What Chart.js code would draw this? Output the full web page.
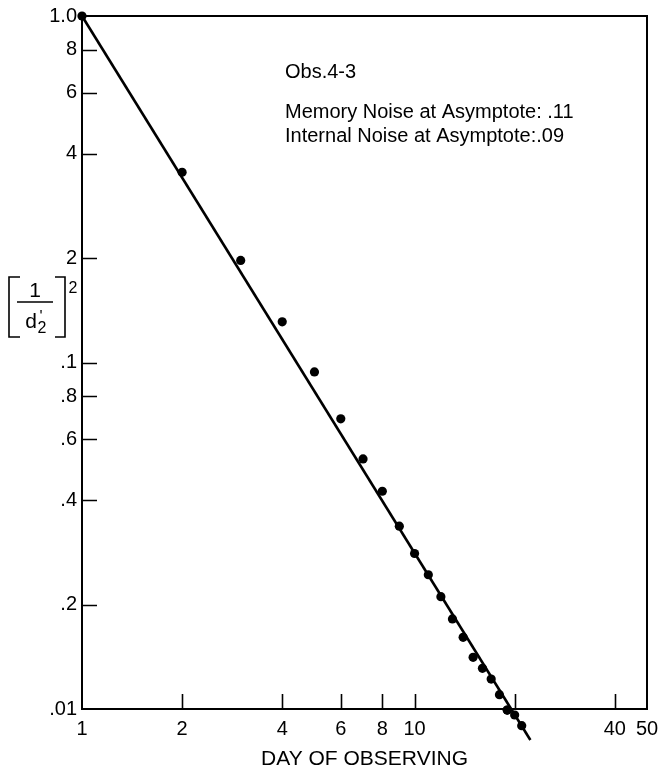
<!DOCTYPE html>
<html><head><meta charset="utf-8">
<script src="https://cdn.jsdelivr.net/npm/chart.js@4.4.1/dist/chart.umd.min.js"></script>
<style>html,body{margin:0;padding:0;background:#fff;overflow:hidden;}</style>
</head><body>
<canvas id="c" width="661" height="772" style="display:block;width:661px;height:772px"></canvas>
<script>
// ---- data ----
const days = [1,2,3,4,5,6,7,8,9,10,11,12,13,14,15,16,17,18,19,20,21];
const invDprimeSq = [1.0,0.354,0.197,0.131,0.0939,0.0688,0.0527,0.0425,0.0337,0.0281,0.0244,0.0211,0.0182,0.0161,0.0141,0.0131,0.0122,0.0110,0.00993,0.00961,0.00895];
const fitDays = [1, 22.3];
const fitValues = [1.0, 0.00814];
const xTickValues = [1,2,4,6,8,10,20,40,50];
const xTickLabels = ['1','2','4','6','8','10','','40','50'];
const yTickValues = [0.01,0.02,0.04,0.06,0.08,0.1,0.2,0.4,0.6,0.8,1.0];
const yTickLabels = ['.01','.2','.4','.6','.8','.1','2','4','6','8','1.0'];
const annotations = ['Obs.4-3','Memory Noise at Asymptote: .11','Internal Noise at Asymptote:.09'];
const xTitle = 'DAY OF OBSERVING';

const FONT = "'Liberation Sans', Arial, sans-serif";

const framePlugin = {
  id: 'frame',
  beforeDraw(chart) {
    const ctx = chart.ctx;
    ctx.save();
    ctx.fillStyle = '#fff';
    ctx.fillRect(0, 0, chart.width, chart.height);
    ctx.restore();
  },
  beforeDatasetsDraw(chart) {
    const ctx = chart.ctx, a = chart.chartArea;
    const xs = chart.scales.x, ys = chart.scales.y;
    ctx.save();
    ctx.strokeStyle = '#000';
    ctx.lineWidth = 2;
    ctx.strokeRect(a.left, a.top, a.right - a.left, a.bottom - a.top);
    ctx.lineWidth = 1.6;
    ctx.beginPath();
    yTickValues.forEach(v => {
      if (v === ys.min || v === ys.max) return;
      const py = Math.round(ys.getPixelForValue(v)) + 0.5;
      ctx.moveTo(a.left, py); ctx.lineTo(a.left + 15, py);
    });
    xTickValues.forEach(v => {
      if (v === xs.min || v === xs.max) return;
      const px = Math.round(xs.getPixelForValue(v)) + 0.5;
      ctx.moveTo(px, a.bottom); ctx.lineTo(px, a.bottom - 15);
    });
    ctx.stroke();
    ctx.restore();
  },
  afterDatasetsDraw(chart) {
    // points that lie just below the axis (Chart.js skips elements outside the area)
    const ctx = chart.ctx, a = chart.chartArea;
    const meta = chart.getDatasetMeta(1);
    ctx.save();
    meta.data.forEach(el => {
      if (el.y > a.bottom || el.y < a.top || el.x > a.right || el.x < a.left) el.draw(ctx);
    });
    ctx.restore();
  },
  afterDraw(chart) {
    const ctx = chart.ctx;
    ctx.save();
    ctx.fillStyle = '#000';
    ctx.textBaseline = 'alphabetic';
    ctx.textAlign = 'left';
    ctx.font = '20px ' + FONT;
    ctx.fillText(annotations[0], 285, 78);
    ctx.fillText(annotations[1], 285, 118);
    ctx.fillText(annotations[2], 285, 142);
    // y-axis label [1/d'2]^2
    ctx.strokeStyle = '#000';
    ctx.lineWidth = 1.6;
    ctx.beginPath();
    ctx.moveTo(20, 277); ctx.lineTo(9, 277); ctx.lineTo(9, 337); ctx.lineTo(20, 337);
    ctx.moveTo(55, 277); ctx.lineTo(65, 277); ctx.lineTo(65, 337); ctx.lineTo(55, 337);
    ctx.moveTo(17, 302); ctx.lineTo(53, 302);
    ctx.stroke();
    ctx.textAlign = 'center';
    ctx.font = '21px ' + FONT;
    ctx.fillText('1', 35, 297);
    ctx.fillText('d', 31, 328);
    ctx.font = '16px ' + FONT;
    ctx.fillText("'", 41, 322);
    ctx.fillText('2', 42, 333);
    ctx.fillText('2', 73, 293);
    ctx.restore();
  }
};

new Chart(document.getElementById('c'), {
  data: {
    datasets: [
      {
        type: 'line',
        data: fitDays.map((d, i) => ({x: d, y: fitValues[i]})),
        borderColor: '#000', borderWidth: 2.6, pointRadius: 0, clip: false, fill: false, tension: 0
      },
      {
        type: 'scatter',
        data: days.map((d, i) => ({x: d, y: invDprimeSq[i]})),
        backgroundColor: '#000', borderColor: '#000', pointRadius: 4.6, borderWidth: 0, clip: false
      }
    ]
  },
  options: {
    responsive: false,
    devicePixelRatio: 1,
    animation: false,
    layout: {padding: {top: 16, right: 14, left: 0, bottom: 0}},
    plugins: {legend: {display: false}, tooltip: {enabled: false}},
    scales: {
      x: {
        type: 'logarithmic', min: 1, max: 50,
        afterFit(s) { s.height = 63; s.paddingRight = 0; s.paddingLeft = 0; },
        afterBuildTicks(s) { s.ticks = xTickValues.map(v => ({value: v})); },
        grid: {display: false, drawTicks: false},
        border: {display: false},
        ticks: {
          autoSkip: false, maxRotation: 0, color: '#000', padding: 8,
          font: {family: FONT, size: 20},
          callback: (v) => xTickLabels[xTickValues.indexOf(v)]
        },
        title: {display: true, text: xTitle, color: '#000', font: {family: FONT, size: 21}, padding: {top: 2, bottom: 0}}
      },
      y: {
        type: 'logarithmic', min: 0.01, max: 1.0,
        afterFit(s) { s.width = 82; s.paddingTop = 0; s.paddingBottom = 0; },
        afterBuildTicks(s) { s.ticks = yTickValues.map(v => ({value: v})); },
        grid: {display: false, drawTicks: false},
        border: {display: false},
        ticks: {
          autoSkip: false, color: '#000', padding: 5,
          font: {family: FONT, size: 20},
          callback: (v) => yTickLabels[yTickValues.indexOf(v)]
        }
      }
    }
  },
  plugins: [framePlugin]
});
</script>
</body></html>
